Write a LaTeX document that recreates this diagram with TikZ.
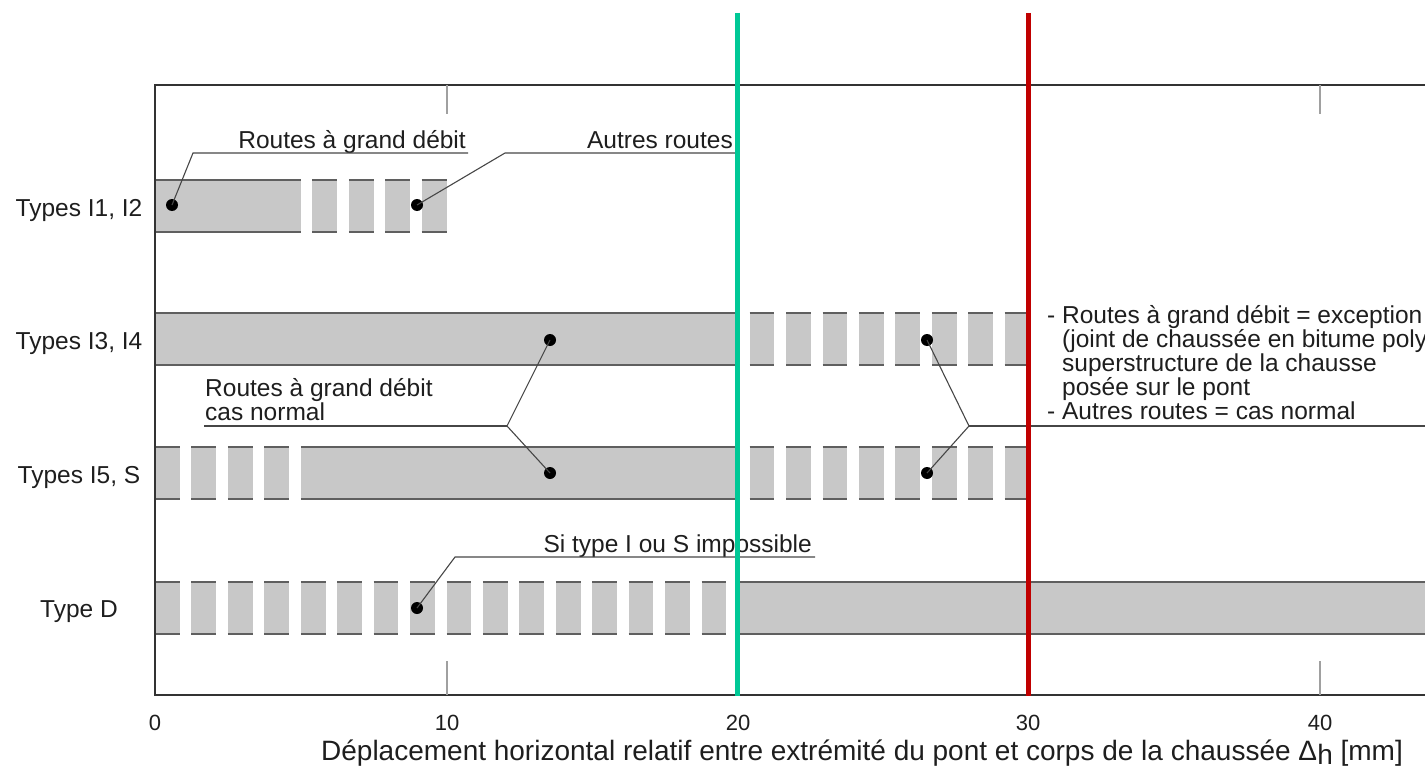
\documentclass[tikz,border=0pt]{standalone}
\usepackage{fontspec}
\setmainfont{Liberation Sans}
\definecolor{fillgray}{RGB}{200,200,200}
\definecolor{edgegray}{RGB}{95,95,95}
\definecolor{txtgray}{RGB}{30,30,30}
\definecolor{leadgray}{RGB}{70,70,70}
\definecolor{tickgray}{RGB}{160,160,160}
\definecolor{lgreen}{RGB}{0,200,150}
\definecolor{lred}{RGB}{192,0,0}
\newcommand\roadseg[3]{%
  \fill[fillgray] ({155+29.15*(#1)},#3) rectangle ({155+29.15*(#2)},{#3+52});
  \draw[baredge] ({155+29.15*(#1)},#3) -- ({155+29.15*(#2)},#3)
                 ({155+29.15*(#1)},{#3+52}) -- ({155+29.15*(#2)},{#3+52});}
\begin{document}
\begin{tikzpicture}[x=1pt,y=-1pt,
  baredge/.style={draw=edgegray,line width=1.6pt},
  frameline/.style={draw=black!80,line width=1.8pt},
  tickline/.style={draw=tickgray,line width=1.4pt},
  leader/.style={draw=leadgray,line width=1.1pt},
  dot/.style={circle,fill=black,inner sep=0pt,minimum size=12pt},
  lbl/.style={font=\fontsize{24.5}{24}\selectfont,text=txtgray,inner sep=0pt},
  ticklbl/.style={font=\fontsize{22}{24}\selectfont,text=txtgray,inner sep=0pt},
  titlelbl/.style={font=\fontsize{28}{30}\selectfont,text=txtgray,inner sep=0pt},
  limit/.style={line width=5pt}]
\useasboundingbox (0,0) rectangle (1425,768);
% bars row 1 (Types I1, I2)
\roadseg{0}{5}{180}
\foreach \i in {0,...,3} {\roadseg{5.4+1.25*\i}{6.25+1.25*\i}{180}}
% row 2 (Types I3, I4)
\roadseg{0}{20}{313}
\foreach \i in {0,...,7} {\roadseg{20.4+1.25*\i}{21.25+1.25*\i}{313}}
% row 3 (Types I5, S)
\foreach \i in {0,...,3} {\roadseg{1.25*\i}{0.85+1.25*\i}{447}}
\roadseg{5}{20}{447}
\foreach \i in {0,...,7} {\roadseg{20.4+1.25*\i}{21.25+1.25*\i}{447}}
% row 4 (Type D)
\foreach \i in {0,...,15} {\roadseg{1.25*\i}{0.85+1.25*\i}{582}}
\roadseg{20}{43.6}{582}
% frame
\coordinate (o) at (155,695);
\coordinate (tl) at (155,85);
\coordinate (tr) at (1425,85);
\coordinate (br) at (1425,695);
\draw[frameline] (tr) -- (tl) -- (o) -- (br);
% ticks
\foreach \xx/\t in {447/10,1320/40} {
  \coordinate (tt\t) at (\xx,85);
  \coordinate (tu\t) at (\xx,114);
  \coordinate (bt\t) at (\xx,695);
  \coordinate (bu\t) at (\xx,661);
  \draw[tickline] (tt\t) -- (tu\t);
  \draw[tickline] (bt\t) -- (bu\t);
}
% tick labels
\foreach \xx/\t in {155/0,447/10,738/20,1028/30,1320/40}
  \node[ticklbl,anchor=base] (x\t) at (\xx,730) {\t};
\node[titlelbl,anchor=base] (xt) at (862,760) {Déplacement horizontal relatif entre extrémité du pont et corps de la chaussée Δ\raisebox{-0.3ex}{h} [mm]};
% row labels
\node[lbl,anchor=base] (r1) at (79,216) {Types I1, I2};
\node[lbl,anchor=base] (r2) at (79,349) {Types I3, I4};
\node[lbl,anchor=base] (r3) at (79,483) {Types I5, S};
\node[lbl,anchor=base] (r4) at (79,617) {Type D};
% leaders row 1
\node[dot] (d1) at (172,205) {};
\node[dot] (d2) at (417,205) {};
\coordinate (k1) at (193,153);
\coordinate (u1) at (468,153);
\coordinate (k2) at (505,153);
\coordinate (u2) at (735,153);
\node[lbl,anchor=base east] (t1) at (466,148) {Routes à grand débit};
\node[lbl,anchor=base east] (t2) at (733,148) {Autres routes};
\draw[leader] (d1.center) -- (k1) -- (u1);
\draw[leader] (d2.center) -- (k2) -- (u2);
% leaders rows 2/3 left
\node[dot] (d3) at (550,340) {};
\node[dot] (d4) at (550,473) {};
\coordinate (j1) at (507,426);
\coordinate (u3) at (204,426);
\node[lbl,anchor=base west,align=left] (t3) at (205,420) {Routes à grand débit\\cas normal};
\draw[leader] (d3.center) -- (j1) -- (d4.center);
\draw[leader] (j1) -- (u3);
% leaders rows 2/3 right
\node[dot] (d5) at (927,340) {};
\node[dot] (d6) at (927,473) {};
\coordinate (j2) at (969,426);
\coordinate (u4) at (1425,426);
\draw[leader] (d5.center) -- (j2) -- (d6.center);
\draw[leader] (j2) -- (u4);
\node[lbl,anchor=base west,align=left] (t4) at (1047,419) {- Routes à grand débit = exception\\
\phantom{-} (joint de chaussée en bitume poly\\
\phantom{-} superstructure de la chausse\\
\phantom{-} posée sur le pont\\
- Autres routes = cas normal};
% leader row 4
\node[dot] (d7) at (417,608) {};
\coordinate (k7) at (455,557);
\coordinate (u7) at (815,557);
\node[lbl,anchor=base east] (t7) at (812,552) {Si type I ou S impossible};
\draw[leader] (d7.center) -- (k7) -- (u7);
% limit lines
\coordinate (gt) at (737,13);
\coordinate (gb) at (737,696);
\coordinate (rt) at (1028,13);
\coordinate (rb) at (1028,696);
\draw[limit,lgreen] (gt) -- (gb);
\draw[limit,lred] (rt) -- (rb);
\end{tikzpicture}
\end{document}
